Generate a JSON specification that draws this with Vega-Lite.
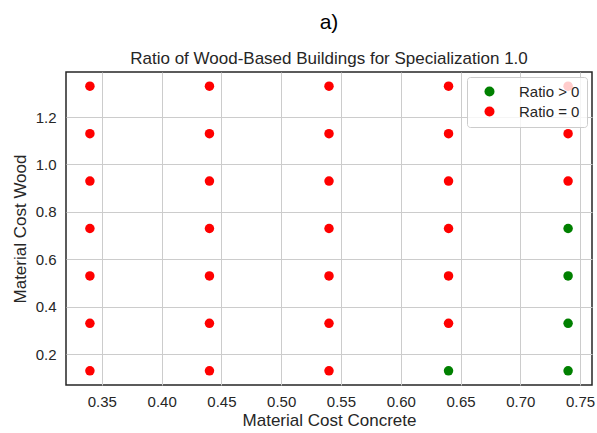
{
  "$schema": "https://vega.github.io/schema/vega-lite/v6.json",
  "width": 526,
  "height": 313,
  "autosize": {"type": "none"},
  "padding": {"left": 66, "top": 72, "right": 5, "bottom": 48},
  "background": "white",
  "title": {
    "text": "a)",
    "subtitle": "Ratio of Wood-Based Buildings for Specialization 1.0",
    "anchor": "middle",
    "font": "Liberation Sans",
    "fontSize": 21,
    "fontWeight": "normal",
    "color": "#000000",
    "subtitleFont": "Liberation Sans",
    "subtitleFontSize": 17,
    "subtitleColor": "#262626",
    "subtitlePadding": 18,
    "offset": 5
  },
  "data": {
    "values": [
      {"concrete": 0.34, "wood": 0.13, "ratio": "Ratio = 0"},
      {"concrete": 0.34, "wood": 0.33, "ratio": "Ratio = 0"},
      {"concrete": 0.34, "wood": 0.53, "ratio": "Ratio = 0"},
      {"concrete": 0.34, "wood": 0.73, "ratio": "Ratio = 0"},
      {"concrete": 0.34, "wood": 0.93, "ratio": "Ratio = 0"},
      {"concrete": 0.34, "wood": 1.13, "ratio": "Ratio = 0"},
      {"concrete": 0.34, "wood": 1.33, "ratio": "Ratio = 0"},
      {"concrete": 0.44, "wood": 0.13, "ratio": "Ratio = 0"},
      {"concrete": 0.44, "wood": 0.33, "ratio": "Ratio = 0"},
      {"concrete": 0.44, "wood": 0.53, "ratio": "Ratio = 0"},
      {"concrete": 0.44, "wood": 0.73, "ratio": "Ratio = 0"},
      {"concrete": 0.44, "wood": 0.93, "ratio": "Ratio = 0"},
      {"concrete": 0.44, "wood": 1.13, "ratio": "Ratio = 0"},
      {"concrete": 0.44, "wood": 1.33, "ratio": "Ratio = 0"},
      {"concrete": 0.54, "wood": 0.13, "ratio": "Ratio = 0"},
      {"concrete": 0.54, "wood": 0.33, "ratio": "Ratio = 0"},
      {"concrete": 0.54, "wood": 0.53, "ratio": "Ratio = 0"},
      {"concrete": 0.54, "wood": 0.73, "ratio": "Ratio = 0"},
      {"concrete": 0.54, "wood": 0.93, "ratio": "Ratio = 0"},
      {"concrete": 0.54, "wood": 1.13, "ratio": "Ratio = 0"},
      {"concrete": 0.54, "wood": 1.33, "ratio": "Ratio = 0"},
      {"concrete": 0.64, "wood": 0.13, "ratio": "Ratio > 0"},
      {"concrete": 0.64, "wood": 0.33, "ratio": "Ratio = 0"},
      {"concrete": 0.64, "wood": 0.53, "ratio": "Ratio = 0"},
      {"concrete": 0.64, "wood": 0.73, "ratio": "Ratio = 0"},
      {"concrete": 0.64, "wood": 0.93, "ratio": "Ratio = 0"},
      {"concrete": 0.64, "wood": 1.13, "ratio": "Ratio = 0"},
      {"concrete": 0.64, "wood": 1.33, "ratio": "Ratio = 0"},
      {"concrete": 0.74, "wood": 0.13, "ratio": "Ratio > 0"},
      {"concrete": 0.74, "wood": 0.33, "ratio": "Ratio > 0"},
      {"concrete": 0.74, "wood": 0.53, "ratio": "Ratio > 0"},
      {"concrete": 0.74, "wood": 0.73, "ratio": "Ratio > 0"},
      {"concrete": 0.74, "wood": 0.93, "ratio": "Ratio = 0"},
      {"concrete": 0.74, "wood": 1.13, "ratio": "Ratio = 0"},
      {"concrete": 0.74, "wood": 1.33, "ratio": "Ratio = 0"}
    ]
  },
  "mark": {"type": "circle", "size": 90, "opacity": 1},
  "encoding": {
    "x": {
      "field": "concrete",
      "type": "quantitative",
      "title": "Material Cost Concrete",
      "scale": {"domain": [0.32, 0.76], "nice": false, "zero": false},
      "axis": {"values": [0.35, 0.4, 0.45, 0.5, 0.55, 0.6, 0.65, 0.7, 0.75], "format": ".2f"}
    },
    "y": {
      "field": "wood",
      "type": "quantitative",
      "title": "Material Cost Wood",
      "scale": {"domain": [0.07, 1.39], "nice": false, "zero": false},
      "axis": {"values": [0.2, 0.4, 0.6, 0.8, 1.0, 1.2], "format": ".1f"}
    },
    "color": {
      "field": "ratio",
      "type": "nominal",
      "scale": {"domain": ["Ratio > 0", "Ratio = 0"], "range": ["#008000", "#ff0000"]},
      "legend": {
        "title": null,
        "orient": "top-right",
        "offset": 5,
        "symbolType": "circle",
        "symbolSize": 100,
        "symbolOpacity": 1,
        "symbolOffset": 8,
        "labelFont": "Liberation Sans",
        "labelFontSize": 15,
        "labelColor": "#262626",
        "labelOffset": 22,
        "rowPadding": 4,
        "padding": 7,
        "fillColor": "rgba(255,255,255,0.8)",
        "strokeColor": "#cccccc",
        "cornerRadius": 3
      }
    }
  },
  "config": {
    "view": {"stroke": "#262626", "strokeWidth": 1.5},
    "axis": {
      "domain": false,
      "ticks": false,
      "grid": true,
      "gridColor": "#cccccc",
      "gridWidth": 1,
      "labelFont": "Liberation Sans",
      "labelFontSize": 15,
      "labelColor": "#262626",
      "titleFont": "Liberation Sans",
      "titleFontSize": 17,
      "titleFontWeight": "normal",
      "titleColor": "#262626"
    },
    "axisX": {"labelPadding": 9, "titlePadding": 3},
    "axisY": {"labelPadding": 10, "titlePadding": 6}
  }
}
